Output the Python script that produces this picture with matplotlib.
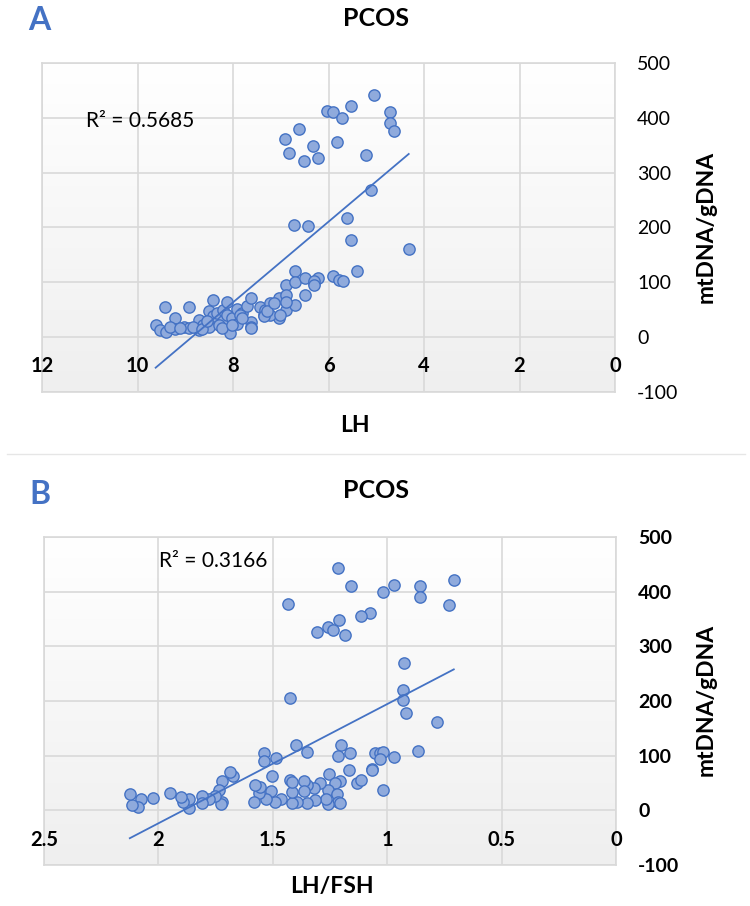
import numpy as np
import matplotlib
matplotlib.use('Agg')
import matplotlib.pyplot as plt
from matplotlib.colors import LinearSegmentedColormap
from matplotlib.transforms import offset_copy
from matplotlib.lines import Line2D

plt.rcParams['font.family'] = ['Lato', 'DejaVu Sans']
plt.rcParams['axes.unicode_minus'] = False

# Panel A: LH vs mtDNA/gDNA
lh_values = [5.04, 5.52, 6.04, 5.90, 4.72, 5.72, 4.72, 4.62, 6.62, 6.92, 5.82, 6.32, 6.82, 5.22,
             6.52, 6.22, 5.12, 5.62, 6.72, 6.42, 5.52, 4.32,
             9.62, 9.52, 9.42, 9.40, 9.21, 9.21, 9.03, 8.92, 8.92, 8.72, 8.72, 8.62, 8.51, 8.51,
             8.42, 8.41, 8.34, 8.21, 8.21, 8.13, 8.13, 8.06, 8.02, 7.92, 7.92, 7.81, 7.71, 7.62,
             7.62, 7.62, 7.62, 7.43, 7.36, 7.32, 7.22, 7.04, 7.04, 6.90, 6.90, 6.90, 6.71, 6.71,
             6.71, 6.50, 6.50, 6.31, 6.22, 5.90, 5.78, 5.69, 5.40,
             9.31, 9.10, 8.83, 8.65, 8.55, 8.30, 8.22, 8.02, 7.85, 7.81, 7.22, 7.36, 7.29, 7.01,
             7.15, 6.90, 6.31, 6.31]
mtdna_a = [442, 422, 413, 410, 410, 399, 390, 376, 379, 362, 356, 349, 335, 332,
           321, 327, 269, 218, 204, 202, 178, 160,
           22, 13, 55, 10, 35, 15, 18, 55, 16, 32, 13, 22, 47, 19,
           67, 38, 44, 29, 50, 65, 41, 7, 35, 51, 24, 44, 57, 72,
           27, 19, 16, 55, 41, 50, 63, 72, 35, 95, 77, 50, 120, 100,
           59, 108, 77, 98, 108, 111, 105, 103, 120,
           18, 16, 18, 15, 29, 22, 16, 22, 41, 35, 41, 38, 47, 41,
           62, 65, 102, 95]

# Panel B: LH/FSH vs mtDNA/gDNA
ratio_values = [1.214, 0.709, 1.158, 0.969, 0.856, 1.019, 0.856, 0.730, 1.435, 1.076, 1.116, 1.212,
                1.258, 1.237, 1.305, 1.183, 0.925, 0.931, 0.931, 0.917, 1.426, 0.782, 0.866, 1.397,
                1.200, 1.351, 1.537, 1.485, 1.537, 1.216, 1.164, 1.053, 1.032, 1.017, 1.032, 0.969,
                1.065, 1.068, 1.019, 1.166, 1.133, 1.116, 1.208, 1.254, 1.227, 1.258, 1.221, 1.216,
                1.208, 1.258, 1.269, 1.292, 1.314, 1.321, 1.351, 1.365, 1.365, 1.351, 1.395, 1.416,
                1.416, 1.426, 1.414, 1.464, 1.489, 1.510, 1.502, 1.531, 1.560, 1.556, 1.577, 1.581,
                1.674, 1.688, 1.724, 1.734, 1.720, 1.726, 1.753, 1.779, 1.808, 1.810, 1.867, 1.865,
                1.894, 1.902, 1.950, 2.022, 2.074, 2.091, 2.116, 2.125]
mtdna_b = [443, 422, 410, 412, 410, 399, 390, 376, 378, 361, 356, 349,
           335, 330, 327, 321, 270, 220, 202, 178, 205, 161, 109, 120,
           120, 107, 105, 96, 90, 100, 104, 104, 104, 107, 94, 98,
           76, 73, 38, 74, 50, 56, 53, 67, 50, 37, 29, 16,
           13, 12, 20, 50, 18, 41, 47, 53, 35, 13, 16, 13,
           33, 56, 51, 21, 15, 35, 62, 20, 32, 43, 47, 15,
           62, 71, 54, 38, 16, 12, 26, 20, 27, 13, 4, 20,
           16, 24, 32, 23, 21, 7, 9, 30]

lh_ticks = [12, 10, 8, 6, 4, 2, 0]
ratio_ticks = [2.5, 2, 1.5, 1, 0.5, 0]
y_ticks = [-100, 0, 100, 200, 300, 400, 500]

W, H = 750, 906
blue = '#4472C4'
face = '#8FAADC'
grid = '#D9D9D9'

fig = plt.figure(figsize=(W / 100, H / 100), dpi=100)


def box(left, top, right, bottom):
    return [left / W, 1 - bottom / H, (right - left) / W, (bottom - top) / H]


# 绘制一个面板
def draw_panel(ax, x, y, xticks, xlabels, ytick_bold):
    # plot area fades from white (top) to light gray (bottom)
    grad = LinearSegmentedColormap.from_list('g', ['#FFFFFF', '#EFEFEF'])
    ax.imshow(np.linspace(0, 1, 256).reshape(-1, 1), cmap=grad, aspect='auto',
              extent=[0, 1, 0, 1], transform=ax.transAxes, zorder=0)
    ax.set_xlim(max(xticks), 0)
    ax.set_ylim(-100, 500)
    ax.set_xticks(xticks)
    ax.set_yticks(y_ticks)
    ax.grid(True, color=grid, linewidth=1.2, zorder=1)
    ax.tick_params(axis='x', length=0, labelbottom=False)
    ax.yaxis.tick_right()
    ax.tick_params(axis='y', length=0, pad=16, labelsize=14)
    for lab in ax.get_yticklabels():
        lab.set_horizontalalignment('left')
        if ytick_bold:
            lab.set_fontweight('bold')
    for s in ax.spines.values():
        s.set_color(grid)
        s.set_linewidth(1.2)
    # x tick labels sit under the zero line
    tr = offset_copy(ax.transData, fig=fig, y=-21, units='points')
    for t, l in zip(xticks, xlabels):
        ax.text(t, 0, l, transform=tr, ha='center', va='center', fontsize=14.5,
                fontweight='bold', zorder=5)
    ax.scatter(x, y, s=66, facecolor=face, edgecolor=blue, linewidth=1.0, zorder=3)
    # linear trendline
    k, b = np.polyfit(x, y, 1)
    xs = np.array([min(x), max(x)])
    ax.plot(xs, k * xs + b, color=blue, linewidth=1.3, zorder=4)


ax_a = fig.add_axes(box(42, 63, 615, 392))
draw_panel(ax_a, lh_values, mtdna_a, lh_ticks, [str(t) for t in lh_ticks], False)
ax_b = fig.add_axes(box(44, 537, 616, 865))
draw_panel(ax_b, ratio_values, mtdna_b, ratio_ticks, ['2.5', '2', '1.5', '1', '0.5', '0'], True)

# titles and labels
fig.text(39 / W, 1 - 20 / H, 'A', color=blue, fontsize=23, fontweight='bold', ha='center', va='center')
fig.text(40 / W, 1 - 494 / H, 'B', color=blue, fontsize=23, fontweight='bold', ha='center', va='center')
fig.text(376 / W, 1 - 18 / H, 'PCOS', fontsize=18, fontweight='bold', ha='center', va='center')
fig.text(376 / W, 1 - 491 / H, 'PCOS', fontsize=18, fontweight='bold', ha='center', va='center')
fig.text(355 / W, 1 - 425 / H, 'LH', fontsize=16.5, fontweight='bold', ha='center', va='center')
fig.text(332 / W, 1 - 886 / H, 'LH/FSH', fontsize=16.5, fontweight='bold', ha='center', va='center')
fig.text(706 / W, 1 - 227 / H, 'mtDNA/gDNA', fontsize=16.5, fontweight='bold', rotation=90,
         ha='center', va='center')
fig.text(706 / W, 1 - 700 / H, 'mtDNA/gDNA', fontsize=16.5, fontweight='bold', rotation=90,
         ha='center', va='center')
fig.text(140 / W, 1 - 121 / H, 'R² = 0.5685', fontsize=15, ha='center', va='center')
fig.text(213 / W, 1 - 561 / H, 'R² = 0.3166', fontsize=15, ha='center', va='center')

# separator between panels
fig.add_artist(Line2D([7 / W, 745 / W], [1 - 454 / H, 1 - 454 / H], color='#E6E6E6', linewidth=1))

fig.savefig('out.png', dpi=100)
